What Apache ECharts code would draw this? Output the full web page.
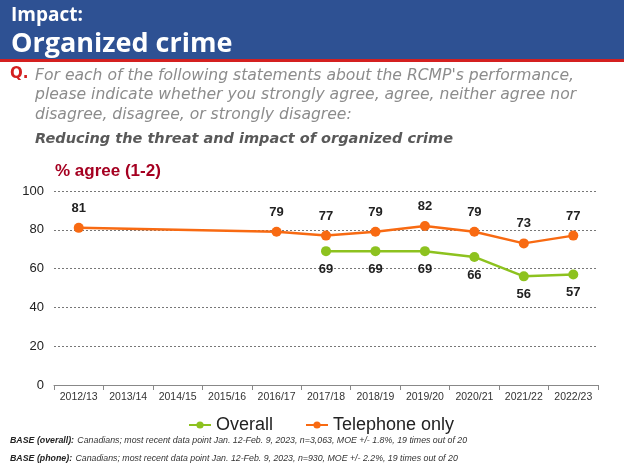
<!DOCTYPE html>
<html><head><meta charset="utf-8">
<script src="https://cdn.jsdelivr.net/npm/echarts@6/dist/echarts.min.js"></script>
<style>html,body{margin:0;padding:0;background:#fff}#c{width:624px;height:468px}</style>
</head><body><div id="c"></div>
<script>
var categories = ['2012/13','2013/14','2014/15','2015/16','2016/17','2017/18','2018/19','2019/20','2020/21','2021/22','2022/23'];
var overall = [null,null,null,null,null,69,69,69,66,56,57];
var telephone = [81,null,null,null,79,77,79,82,79,73,77];
var yTicks = [0,20,40,60,80,100];

var chart = echarts.init(document.getElementById('c'));
var qFont = '"DejaVu Sans", sans-serif';
var ft = '"Liberation Sans", Arial, sans-serif';
chart.setOption({
  animation:false,
  graphic:[
    {type:'rect', shape:{x:0,y:0,width:624,height:59}, style:{fill:'#2E5193'}},
    {type:'rect', shape:{x:0,y:59,width:624,height:3}, style:{fill:'#D42020'}},
    {type:'text', x:11, y:16, style:{text:'Impact:', fill:'#fff', verticalAlign:'middle', font:'bold 19px "Open Sans", "DejaVu Sans", sans-serif'}},
    {type:'text', x:11, y:44, style:{text:'Organized crime', fill:'#fff', verticalAlign:'middle', font:'bold 27px "Open Sans", "DejaVu Sans", sans-serif'}},
    {type:'text', left:10, top:67, style:{text:'Q.', fill:'#D42020', font:'bold 15px "DejaVu Sans", sans-serif'}},
    {type:'text', left:35, top:66, style:{text:'For each of the following statements about the RCMP\'s performance,\nplease indicate whether you strongly agree, agree, neither agree nor\ndisagree, disagree, or strongly disagree:', fill:'#8C8C8C', font:'italic 15.6px '+qFont, lineHeight:19.5}},
    {type:'text', left:35, top:132, style:{text:'Reducing the threat and impact of organized crime', fill:'#595959', font:'bold italic 14.5px "DejaVu Sans", sans-serif'}},
    {type:'text', left:55, top:163, style:{text:'% agree (1-2)', fill:'#A50021', font:'bold 17px '+ft}},
    {type:'text', left:10, top:435, style:{rich:{b:{font:'bold italic 8.8px '+ft, fill:'#222'}, n:{font:'italic 8.8px '+ft, fill:'#333'}}, text:'{b|BASE (overall):} {n|Canadians; most recent data point Jan. 12-Feb. 9, 2023, n=3,063, MOE +/- 1.8%, 19 times out of 20}'}},
    {type:'text', left:10, top:453, style:{rich:{b:{font:'bold italic 8.8px '+ft, fill:'#222'}, n:{font:'italic 8.8px '+ft, fill:'#333'}}, text:'{b|BASE (phone):} {n|Canadians; most recent data point Jan. 12-Feb. 9, 2023, n=930, MOE +/- 2.2%, 19 times out of 20}'}}
  ],
  legend:{
    top:411, left:183, itemGap:32, itemWidth:22, itemHeight:9,
    textStyle:{fontSize:18, color:'#222', fontFamily:ft},
    data:['Overall','Telephone only']
  },
  grid:{left:54, right:26, top:191, bottom:83},
  xAxis:{
    type:'category', data:categories, boundaryGap:true,
    axisLine:{lineStyle:{color:'#888'}},
    axisTick:{show:true, alignWithLabel:false, lineStyle:{color:'#888'}},
    axisLabel:{interval:0, color:'#333', fontSize:10.5, fontFamily:ft, margin:7}
  },
  yAxis:{
    type:'value', min:yTicks[0], max:yTicks[yTicks.length-1], interval:20,
    axisLine:{show:false}, axisTick:{show:false},
    axisLabel:{color:'#222', fontSize:13, fontFamily:ft, margin:10},
    splitLine:{lineStyle:{color:'#777', type:[2,2], width:1}}
  },
  series:[
    {name:'Overall', type:'line', data:overall, connectNulls:true, color:'#8DC21F',
     symbol:'circle', symbolSize:10, lineStyle:{width:2.5},
     label:{show:true, position:'bottom', distance:7, fontSize:13, fontWeight:'bold', color:'#222', fontFamily:ft}},
    {name:'Telephone only', type:'line', data:telephone, connectNulls:true, color:'#F86A12',
     symbol:'circle', symbolSize:10, lineStyle:{width:2.5},
     label:{show:true, position:'top', distance:8, fontSize:13, fontWeight:'bold', color:'#222', fontFamily:ft}}
  ]
});
</script></body></html>
